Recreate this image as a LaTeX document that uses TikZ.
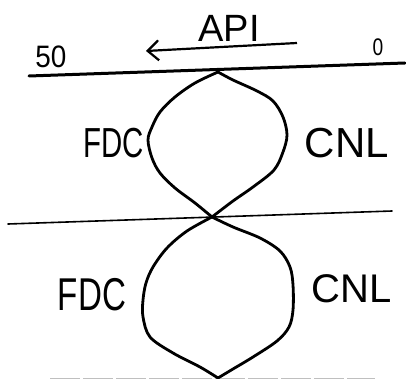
\documentclass[tikz,border=0pt]{standalone}
\usepackage{fontspec}
\setmainfont{Liberation Sans}
\usetikzlibrary{arrows.meta}
\begin{document}
\begin{tikzpicture}[x=1pt,y=-1pt,
  lbl/.style={inner sep=0pt,anchor=center},
  loop/.style={line width=2.8pt,line join=round,line cap=round},
  axis/.style={line width=3pt,line cap=round},
  thinaxis/.style={line width=1.6pt,line cap=round}]
\useasboundingbox (0,0) rectangle (406,379);
% labels
\node[lbl,font=\fontsize{38}{38}\selectfont] (api) at (229,28) {API};
\node[lbl,font=\fontsize{31}{31}\selectfont] (fifty) at (51,57) {\scalebox{0.9}[1]{50}};
\node[lbl,font=\fontsize{24}{24}\selectfont] (zero) at (378,47) {\scalebox{0.8}[1]{0}};
\node[lbl,font=\fontsize{42}{42}\selectfont] (fdcU) at (114,143) {\scalebox{0.7}[1]{FDC}};
\node[lbl,font=\fontsize{42}{42}\selectfont] (cnlU) at (347,143) {CNL};
\node[lbl,font=\fontsize{46}{46}\selectfont] (fdcL) at (92,295) {\scalebox{0.72}[1]{FDC}};
\node[lbl,font=\fontsize{40}{40}\selectfont] (cnlL) at (352,289) {CNL};
% arrow
\coordinate (arS) at (297,43);
\coordinate (arE) at (146,51);
\draw[line width=2.2pt,-{Straight Barb[length=11pt,width=20pt,line width=2.2pt]}] (arS) -- (arE);
% axes
\coordinate (t1) at (29,76);
\coordinate (t2) at (405,63);
\draw[axis] (t1) -- (t2);
\coordinate (m1) at (8,224);
\coordinate (m2) at (392,211);
\draw[thinaxis] (m1) -- (m2);
% bottom faint line
\coordinate (b1) at (50,378.5);
\coordinate (b2) at (375,378.5);
\draw[gray!50,line width=1.2pt,dash pattern=on 30pt off 3pt] (b1) -- (b2);
% loops
\coordinate (top) at (218,72);
\coordinate (cross) at (212,217);
\coordinate (bot) at (218,378);
\draw[loop] plot[smooth,tension=0.55] coordinates {(218,72) (195,83) (175,97) (160,112) (152,127) (148,140) (152,158) (160,173) (175,188) (195,203) (212,217)};
\draw[loop] plot[smooth,tension=0.55] coordinates {(218,72) (233,80) (257,91) (273,101) (283,117) (287,135) (283,152) (274,170) (253,187) (233,201) (212,217)};
\draw[loop] plot[smooth,tension=0.55] coordinates {(212,217) (187,231) (167,248) (153,267) (146,283) (143,300) (143,317) (150,337) (173,353) (200,367) (218,378)};
\draw[loop] plot[smooth,tension=0.55] coordinates {(212,217) (233,227) (260,238) (280,251) (290,267) (293,285) (293,310) (289,327) (277,341) (253,357) (233,369) (218,378)};
\end{tikzpicture}
\end{document}
